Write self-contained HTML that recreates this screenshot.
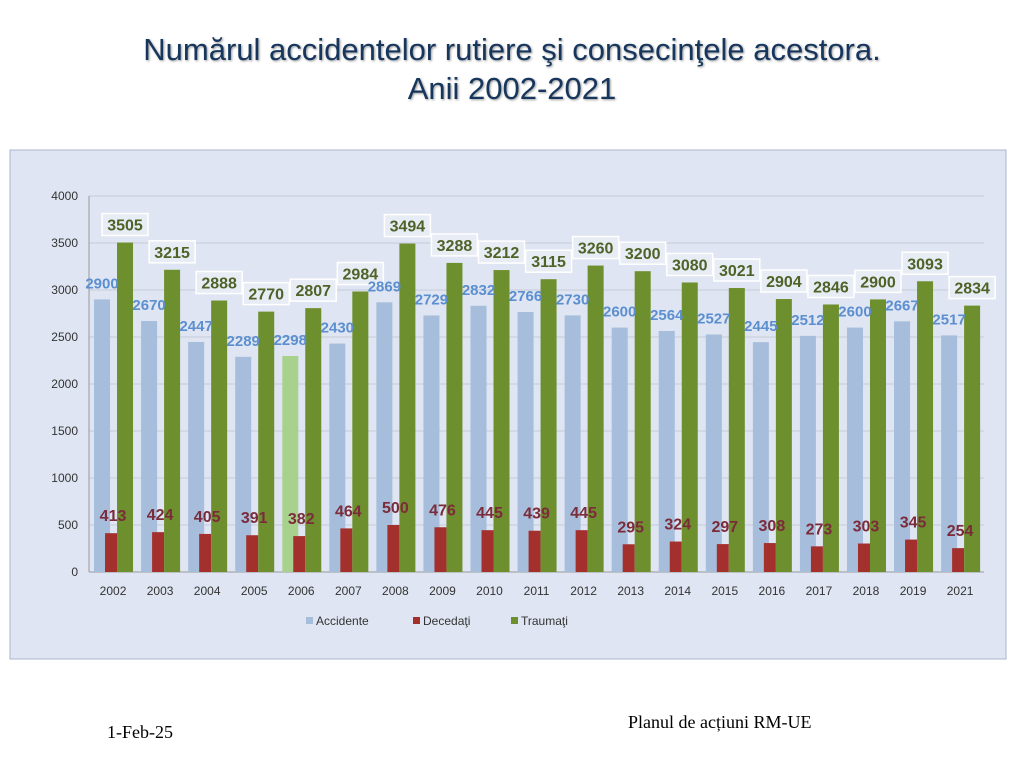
<!DOCTYPE html>
<html><head><meta charset="utf-8">
<style>
body{margin:0;width:1024px;height:767px;background:#fff;overflow:hidden;font-family:"Liberation Sans",sans-serif;position:relative}
#title{position:absolute;left:0;width:1024px;top:30px;text-align:center;font-size:31px;line-height:39px;color:#17365d;text-shadow:1px 1px 2px #999}
#foot1{position:absolute;left:107px;top:722px;font-family:"Liberation Serif",serif;font-size:18px}
#foot2{position:absolute;left:628px;top:712px;font-family:"Liberation Serif",serif;font-size:18px}
</style></head><body>
<div id="title">Numărul accidentelor rutiere şi consecinţele acestora.<br>Anii 2002-2021</div>
<svg id="chart" width="1024" height="767" style="position:absolute;left:0;top:0"></svg>
<div id="foot1">1-Feb-25</div>
<div id="foot2">Planul de acțiuni RM-UE</div>
<script>
const categories=["2002","2003","2004","2005","2006","2007","2008","2009","2010","2011","2012","2013","2014","2015","2016","2017","2018","2019","2021"];
const accidente=[2900,2670,2447,2289,2298,2430,2869,2729,2832,2766,2730,2600,2564,2527,2445,2512,2600,2667,2517];
const decedati=[413,424,405,391,382,464,500,476,445,439,445,295,324,297,308,273,303,345,254];
const traumati=[3505,3215,2888,2770,2807,2984,3494,3288,3212,3115,3260,3200,3080,3021,2904,2846,2900,3093,2834];
const yTicks=[0,500,1000,1500,2000,2500,3000,3500,4000];
const NS="http://www.w3.org/2000/svg";
const svg=document.getElementById('chart');
const x0=89.5,step=47.06,y0=572,yScale=376/4000;
const X=i=>x0+step*(i+0.5);
const Y=v=>y0-v*yScale;
function mk(t,a,p){const e=document.createElementNS(NS,t);for(const k in a)e.setAttribute(k,a[k]);(p||svg).appendChild(e);return e;}
const bg=mk('rect',{x:10,y:150,width:996,height:509,fill:'#dfe5f2',stroke:'#a9b7cf'});


yTicks.forEach(t=>{
  const l=mk('line',{x1:89,x2:984,y1:Y(t),y2:Y(t),stroke:'#c4cad6','stroke-width':1});
  
  
  const tx=mk('text',{x:78,y:Y(t)+4,'text-anchor':'end','font-size':12,fill:'#333'});tx.textContent=t;
  
  
});
mk('line',{x1:89,x2:89,y1:Y(4000),y2:y0,stroke:'#999'});
mk('line',{x1:89,x2:984,y1:y0,y2:y0,stroke:'#999'});
categories.forEach((c,i)=>{
  const cx=X(i);
  const b=mk('rect',{x:cx-19,y:Y(accidente[i]),width:16,height:accidente[i]*yScale,fill:i==4?'#a9d18e':'#a6bddb'});
  
  
  const r=mk('rect',{x:cx-8,y:Y(decedati[i]),width:12,height:decedati[i]*yScale,fill:'#a4302e'});
  
  
  const g=mk('rect',{x:cx+4,y:Y(traumati[i]),width:16,height:traumati[i]*yScale,fill:'#6e8f2e'});
  
  
  const xl=mk('text',{x:cx,y:595,'text-anchor':'middle','font-size':12,fill:'#333'});xl.textContent=c;
  
  
  const al=mk('text',{x:cx-11,y:Y(accidente[i])-11,'text-anchor':'middle','font-size':15,'font-weight':'bold',fill:'#5b8fcf'});al.textContent=accidente[i];
  
  
  const dl=mk('text',{x:cx,y:Y(decedati[i])-12,'text-anchor':'middle','font-size':16,'font-weight':'bold',fill:'#7b2b3a'});dl.textContent=decedati[i];
  
  
  const gy=Y(traumati[i])-18;
  const box=mk('rect',{x:cx-11,y:gy-11,width:46,height:22,fill:'#e8ecf4',stroke:'#fff','stroke-width':1.5});
  
  
  const gl=mk('text',{x:cx+12,y:gy+6,'text-anchor':'middle','font-size':16,'font-weight':'bold',fill:'#4f6228'});gl.textContent=traumati[i];
  
  
});
const legend=[["Accidente","#a6bddb",306],["Decedaţi","#a4302e",413],["Traumaţi","#6e8f2e",511]];
legend.forEach(([n,c,lx])=>{
  const s=mk('rect',{x:lx,y:617,width:7,height:7,fill:c});
  
  
  const t=mk('text',{x:lx+10,y:625,'font-size':12,fill:'#333'});t.textContent=n;
  
  
});
</script>
</body></html>
